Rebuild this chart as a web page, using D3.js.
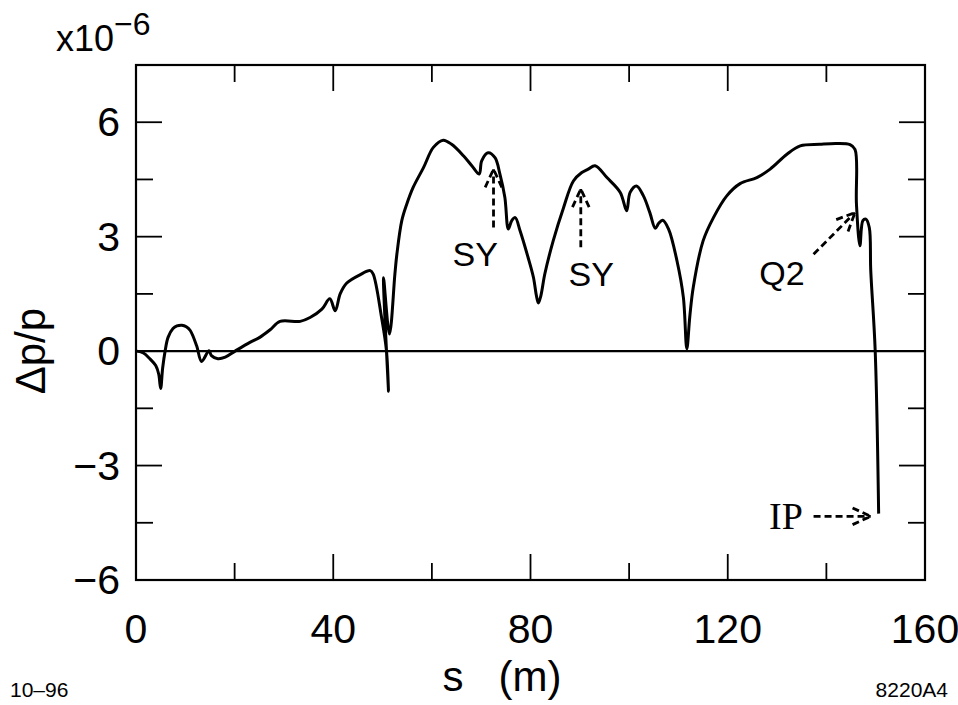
<!DOCTYPE html>
<html>
<head>
<meta charset="utf-8">
<script src="https://cdn.jsdelivr.net/npm/d3@7"></script>
<style>
  body { margin: 0; background: #fff; }
  svg { display: block; }
</style>
</head>
<body>
<div id="chart"></div>
<script>
// path length s (m) and momentum deviation dp/p (x1e-6)
const sValues = [
  0.2, 1.5, 2.8, 4.0, 4.6, 5.0, 5.4, 5.9, 6.5, 7.5, 8.3, 9.3, 10.2, 11.0, 12.3, 13.3,
  14.8, 15.3, 16.6, 18.1, 20.1, 23.1, 25.1, 27.2, 29.2, 33.3, 35.3, 37.7, 39.3, 40.4,
  41.4, 42.7, 45.4, 47.5, 48.1, 49.8, 50.8, 51.2, 50.2, 51.4, 52.5, 52.9, 53.9, 54.9,
  56.2, 58.3, 60.3, 62.3, 64.0, 66.4, 68.1, 69.6, 70.1, 71.4, 72.8, 73.8, 74.8, 75.5,
  76.2, 76.9, 77.9, 79.5, 80.6, 81.2, 81.6, 82.1, 82.9, 84.6, 86.7, 88.7, 90.4, 91.7,
  93.1, 95.5, 98.2, 99.5, 100.2, 101.5, 102.9, 104.2, 105.3, 106.0, 106.8, 108.0, 109.7,
  111.0, 111.7, 112.3, 113.0, 115.0, 117.1, 119.8, 122.5, 125.9, 128.6, 132.0, 134.7,
  138.7, 142.1, 144.8, 145.8, 146.1, 146.8, 147.4, 148.0, 148.7, 149.0, 149.9, 150.6
];
const dpValues = [
  0, -0.05, -0.2, -0.38, -0.6, -0.98, -0.45, 0, 0.36, 0.59, 0.66, 0.68, 0.64, 0.54, 0.14, -0.27,
  0.01, -0.12, -0.2, -0.16, 0, 0.23, 0.36, 0.56, 0.78, 0.78, 0.88, 1.1, 1.37, 1.06,
  1.5, 1.78, 2.0, 2.11, 2.02, 0.88, 0.0, -1.05, 1.92, 0.45, 2.02, 2.54, 3.42, 3.85,
  4.29, 4.81, 5.34, 5.53, 5.42, 5.12, 4.86, 4.64, 4.99, 5.2, 5.07, 4.64, 4.03, 3.2,
  3.42, 3.5, 3.15, 2.46, 1.93, 1.45, 1.26, 1.45, 2.02, 2.89, 3.76, 4.46, 4.68, 4.77,
  4.86, 4.55, 4.16, 3.68, 4.16, 4.33, 4.07, 3.63, 3.22, 3.35, 3.43, 3.2, 2.37,
  1.41, 0.06, 0.9, 1.67, 2.89, 3.5, 4.07, 4.39, 4.55, 4.77, 5.16, 5.38,
  5.42, 5.44, 5.41, 5.29, 3.85, 2.76, 3.42, 3.46, 3.24, 2.11, 0.01, -4.26
];

const xMajorTicks = [0, 40, 80, 120, 160];
const xMinorTicks = [20, 60, 100, 140];
const yMajorTicks = [-6, -3, 0, 3, 6];
const yMinorTicks = [-4.5, -1.5, 1.5, 4.5];
const yTickLabels = ["\u22126", "\u22123", "0", "3", "6"];

// annotations: label, label position, arrow tail, arrow tip (data units)
const annoLabels = ["SY", "SY", "Q2", "IP"];
const annoTextPos = [[68.8, 2.22], [92.3, 1.71], [131.0, 1.74], [131.8, -4.65]];
const annoTail = [[72.5, 3.24], [90.2, 2.72], [137.4, 2.54], [137.4, -4.33]];
const annoTip = [[72.5, 4.77], [90.2, 4.25], [145.8, 3.63], [149.0, -4.33]];

const width = 958, height = 705;
const margin = {top: 65, right: 33, bottom: 125, left: 136};
const fontFamily = "'Liberation Sans', Arial, Helvetica, sans-serif";

const svg = d3.select("#chart").append("svg")
    .attr("width", width)
    .attr("height", height);

let x = d3.scaleLinear()
    .domain([0, 160])
    .range([margin.left, width - margin.right]);

let y = d3.scaleLinear()
    .domain([-6, 7.5])
    .range([height - margin.bottom, margin.top]);

const x0 = x.range()[0], x1 = x.range()[1];
const yB = y.range()[0], yT = y.range()[1];

// ticks on all four sides, pointing inward
let majorLen = 26, minorLen = 17;
let tickG = svg.append("g").attr("stroke", "#000").attr("stroke-width", 1.8);

function xTicksAt(vals, len) {
  tickG.selectAll(null).data(vals).enter().append("line")
    .attr("x1", d => x(d)).attr("x2", d => x(d))
    .attr("y1", yB).attr("y2", yB - len);
  tickG.selectAll(null).data(vals).enter().append("line")
    .attr("x1", d => x(d)).attr("x2", d => x(d))
    .attr("y1", yT).attr("y2", yT + len);
}
function yTicksAt(vals, len) {
  tickG.selectAll(null).data(vals).enter().append("line")
    .attr("y1", d => y(d)).attr("y2", d => y(d))
    .attr("x1", x0).attr("x2", x0 + len);
  tickG.selectAll(null).data(vals).enter().append("line")
    .attr("y1", d => y(d)).attr("y2", d => y(d))
    .attr("x1", x1).attr("x2", x1 - len);
}
xTicksAt(xMajorTicks.slice(1, -1), majorLen);
xTicksAt(xMinorTicks, minorLen);
yTicksAt(yMajorTicks.slice(1), majorLen);
yTicksAt(yMinorTicks, minorLen);

// zero line
svg.append("line")
    .attr("x1", x0).attr("x2", x1)
    .attr("y1", y(0)).attr("y2", y(0))
    .attr("stroke", "#000")
    .attr("stroke-width", 2.2);

// frame
svg.append("rect")
    .attr("x", x0).attr("y", yT)
    .attr("width", x1 - x0).attr("height", yB - yT)
    .attr("fill", "none")
    .attr("stroke", "#000")
    .attr("stroke-width", 2.2);

// tick labels
svg.append("g").selectAll("text")
    .data(xMajorTicks)
    .enter().append("text")
      .attr("x", d => x(d))
      .attr("y", yB + 63)
      .attr("text-anchor", "middle")
      .style("font-family", fontFamily)
      .style("font-size", "41px")
      .text(d => d);

svg.append("g").selectAll("text")
    .data(yMajorTicks)
    .enter().append("text")
      .attr("x", x0 - 16)
      .attr("y", d => y(d) + 14)
      .attr("text-anchor", "end")
      .style("font-family", fontFamily)
      .style("font-size", "41px")
      .text((d, i) => yTickLabels[i]);

// scale factor
let mult = svg.append("text")
    .attr("x", 56)
    .attr("y", 51)
    .style("font-family", fontFamily)
    .style("font-size", "36px");
mult.append("tspan").text("x10");
mult.append("tspan")
    .attr("dy", -16)
    .style("font-size", "32px")
    .text("\u22126");

// axis titles
svg.append("text")
    .attr("transform", `translate(45, ${y(0)}) rotate(-90)`)
    .attr("text-anchor", "middle")
    .style("font-family", fontFamily)
    .style("font-size", "42px")
    .text("\u0394p/p");

svg.append("text")
    .attr("x", 502)
    .attr("y", 691)
    .attr("text-anchor", "middle")
    .style("font-family", fontFamily)
    .style("font-size", "42px")
    .style("white-space", "pre")
    .attr("xml:space", "preserve")
    .text("s   (m)");

svg.append("text")
    .attr("x", 10)
    .attr("y", 697)
    .style("font-family", fontFamily)
    .style("font-size", "21px")
    .text("10\u201396");

svg.append("text")
    .attr("x", 948)
    .attr("y", 697)
    .attr("text-anchor", "end")
    .style("font-family", fontFamily)
    .style("font-size", "21px")
    .text("8220A4");

// the curve
const data = sValues.map((s, i) => ({s: s, v: dpValues[i]}));
let line = d3.line()
    .x(d => x(d.s))
    .y(d => y(d.v))
    .curve(d3.curveCatmullRom.alpha(0.5));

svg.append("path")
    .datum(data)
    .attr("fill", "none")
    .attr("stroke", "#000")
    .attr("stroke-width", 3)
    .attr("stroke-linejoin", "round")
    .attr("d", line);

// annotations with dashed arrows
let anno = svg.append("g");
for (let i = 0; i < annoLabels.length; i++) {
  let tx = x(annoTail[i][0]), ty = y(annoTail[i][1]);
  let hx = x(annoTip[i][0]), hy = y(annoTip[i][1]);
  let ang = Math.atan2(hy - ty, hx - tx);
  let headLen = 20, spread = 0.43;
  let a1 = [hx - headLen * Math.cos(ang - spread), hy - headLen * Math.sin(ang - spread)];
  let a2 = [hx - headLen * Math.cos(ang + spread), hy - headLen * Math.sin(ang + spread)];

  anno.append("path")
      .attr("d", `M${tx},${ty}L${hx},${hy}M${a1[0]},${a1[1]}L${hx},${hy}L${a2[0]},${a2[1]}`)
      .attr("fill", "none")
      .attr("stroke", "#000")
      .attr("stroke-width", 2.8)
      .attr("stroke-dasharray", "7,4");

  let isIP = annoLabels[i] === "IP";
  anno.append("text")
      .attr("x", x(annoTextPos[i][0]))
      .attr("y", y(annoTextPos[i][1]))
      .attr("text-anchor", "middle")
      .style("font-family", isIP ? "'Liberation Serif', 'Times New Roman', serif" : fontFamily)
      .style("font-size", isIP ? "38px" : "34px")
      .text(annoLabels[i]);
}
</script>
</body>
</html>
